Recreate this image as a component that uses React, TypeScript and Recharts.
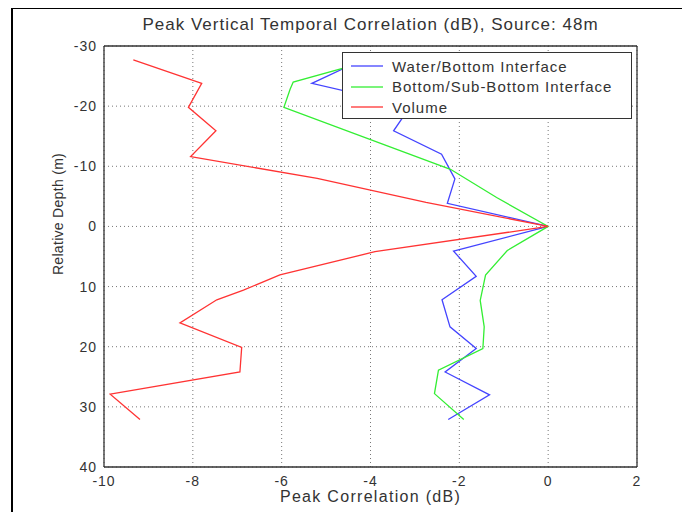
import { ScatterChart, Scatter, XAxis, YAxis, CartesianGrid, Legend, Label } from "recharts";

// axis ticks
const corrTicks = [-10, -8, -6, -4, -2, 0, 2];
const depthTicks = [-30, -20, -10, 0, 10, 20, 30, 40];

// Water/Bottom Interface
const waterDepth = [-28, -23.8, -20, -15.9, -12, -7.9, -3.85, 0, 4.1, 8.3, 12.2, 16.7, 20.3, 24.2, 28, 32.1];
const waterCorr = [-4.1, -5.32, -3.1, -3.48, -2.4, -2.1, -2.27, 0, -2.13, -1.62, -2.39, -2.21, -1.62, -2.32, -1.32, -2.25];

// Bottom/Sub-Bottom Interface
const subDepth = [-28, -24, -22.8, -19.8, -9.5, -4.8, 0, 4, 8.1, 12.3, 16.7, 20.3, 23.9, 27.8, 32.1];
const subCorr = [-3.8, -5.74, -5.81, -5.95, -2.2, -1.16, 0, -0.92, -1.41, -1.53, -1.44, -1.47, -2.47, -2.56, -1.9];

// Volume
const volDepth = [-27.7, -23.8, -19.8, -15.9, -11.6, -8, -4, 0, 4.2, 8.05, 10.6, 12.2, 16.05, 20.1, 24.2, 27.9, 32.1];
const volCorr = [-9.34, -7.8, -8.1, -7.48, -8.05, -5.2, -2.75, 0, -3.9, -6.04, -6.86, -7.46, -8.29, -6.9, -6.94, -9.86, -9.19];

const toPoints = (depth: number[], corr: number[]) =>
  depth.map((d, i) => ({ corr: corr[i], depth: d }));

const series = [
  { name: "Water/Bottom Interface", color: "#4444ff", data: toPoints(waterDepth, waterCorr) },
  { name: "Bottom/Sub-Bottom Interface", color: "#33ee33", data: toPoints(subDepth, subCorr) },
  { name: "Volume", color: "#ff3333", data: toPoints(volDepth, volCorr) },
];

const font = "'Liberation Sans', Arial, sans-serif";
const textColor = "#333";
const boxColor = "#333";

// legend keeps the plotting order, not alphabetical
const LegendBox = () => (
  <div
    style={{
      width: 290,
      height: 67,
      background: "#fff",
      border: `1.5px solid ${boxColor}`,
      fontFamily: font,
      fontSize: 15,
      letterSpacing: 1,
      color: textColor,
      paddingTop: 3,
      boxSizing: "border-box",
      whiteSpace: "nowrap",
    }}
  >
    {series.map((s) => (
      <div key={s.name} style={{ display: "flex", alignItems: "center", height: 20.5 }}>
        <svg width={49} height={10} style={{ flex: "none" }}>
          <line x1={8} x2={40} y1={5} y2={5} stroke={s.color} strokeWidth={1.3} />
        </svg>
        <span>{s.name}</span>
      </div>
    ))}
  </div>
);

const DepthLabel = ({ viewBox }: any) => {
  const x = viewBox.x + 24;
  const y = viewBox.y + 168;
  return (
    <text
      x={x}
      y={y}
      transform={`rotate(-90, ${x}, ${y})`}
      textAnchor="middle"
      dominantBaseline="central"
      fontFamily={font}
      fontSize={14}
      letterSpacing={0.3}
      fill={textColor}
    >
      Relative Depth (m)
    </text>
  );
};

const blank = () => "";
const tickStyle = { fill: textColor, fontSize: 14, fontFamily: font, letterSpacing: 1 };

export default function App() {
  return (
    <div style={{ position: "relative", width: 674, height: 504, fontFamily: font }}>
      <div
        style={{
          position: "absolute",
          left: 3,
          top: -1,
          width: 679,
          height: 505,
          borderTop: "2px solid #000",
          borderLeft: "2px solid #000",
          boxSizing: "border-box",
        }}
      />
      <div
        style={{
          position: "absolute",
          left: 96,
          width: 533,
          top: 7,
          textAlign: "center",
          fontSize: 17,
          letterSpacing: 1,
          color: textColor,
          whiteSpace: "nowrap",
        }}
      >
        Peak Vertical Temporal Correlation (dB), Source: 48m
      </div>
      <ScatterChart width={674} height={504} margin={{ top: 38, right: 45, bottom: 0, left: 26 }}>
        <CartesianGrid stroke="#777" strokeDasharray="1 3" />
        <XAxis
          type="number"
          dataKey="corr"
          domain={[-10, 2]}
          ticks={corrTicks}
          height={45}
          tickLine={false}
          axisLine={false}
          tickSize={0}
          tickMargin={9}
          tick={tickStyle}
        >
          <Label
            value="Peak Correlation (dB)"
            position="insideBottom"
            offset={10}
            fill={textColor}
            fontSize={16}
            letterSpacing={1.3}
            fontFamily={font}
          />
        </XAxis>
        <YAxis
          type="number"
          dataKey="depth"
          domain={[-30, 40]}
          ticks={depthTicks}
          reversed
          width={70}
          tickLine={false}
          axisLine={false}
          tickSize={0}
          tickMargin={7}
          tick={tickStyle}
        >
          <Label content={<DepthLabel />} />
        </YAxis>
        <XAxis xAxisId="top" orientation="top" mirror type="number" domain={[-10, 2]} ticks={corrTicks} tickSize={5} tickFormatter={blank} stroke={boxColor} strokeWidth={1.3} />
        <XAxis xAxisId="bottomTicks" orientation="bottom" mirror type="number" domain={[-10, 2]} ticks={corrTicks} tickSize={5} tickFormatter={blank} stroke={boxColor} strokeWidth={1.3} />
        <YAxis yAxisId="leftTicks" orientation="left" mirror type="number" domain={[-30, 40]} reversed ticks={depthTicks} tickSize={5} tickFormatter={blank} stroke={boxColor} strokeWidth={1.3} />
        <YAxis yAxisId="right" orientation="right" mirror type="number" domain={[-30, 40]} reversed ticks={depthTicks} tickSize={5} tickFormatter={blank} stroke={boxColor} strokeWidth={1.3} />
        {series.map((s) => (
          <Scatter
            key={s.name}
            name={s.name}
            data={s.data}
            fill={s.color}
            line={{ stroke: s.color, strokeWidth: 1.3 }}
            lineType="joint"
            shape={() => <g />}
            isAnimationActive={false}
          />
        ))}
        <Legend
          layout="vertical"
          align="center"
          verticalAlign="middle"
          wrapperStyle={{ top: 44, left: 334, width: 290 }}
          content={<LegendBox />}
        />
      </ScatterChart>
    </div>
  );
}
